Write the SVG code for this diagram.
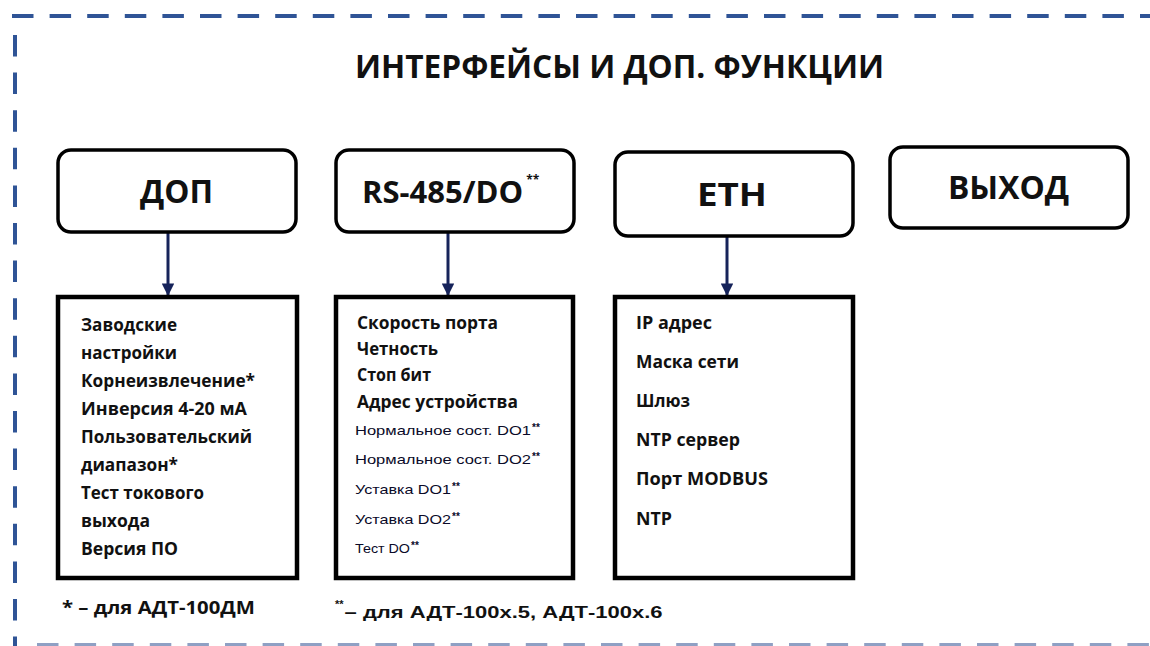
<svg xmlns="http://www.w3.org/2000/svg" width="1150" height="646" viewBox="0 0 1150 646">
<style>
.frame{fill:none;stroke:#2f5496;stroke-width:4;stroke-dasharray:21.5 16.1}
.hdr{fill:#fff;stroke:#000;stroke-width:3.5}
.lst{fill:#fff;stroke:#000;stroke-width:4.5}
.conn{stroke:#16235a;stroke-width:3;fill:none}
.t{font-family:"Open Sans","Liberation Sans",sans-serif;font-weight:bold;fill:#111}
.h{font-size:33px}
.i{font-size:17px}
.s{font-family:"Liberation Sans",Arial,sans-serif;font-size:13px;fill:#0a0a28}
.sup{font-family:"Liberation Sans",Arial,sans-serif;font-size:10px;font-weight:bold;fill:#0a0a28}
.f2{font-family:"Liberation Sans",Arial,sans-serif;font-weight:bold;font-size:17px;fill:#111}
</style>
<defs>
<marker id="arr" viewBox="0 0 10 10" refX="10" refY="5" markerWidth="4.2" markerHeight="4.2" orient="auto" markerUnits="strokeWidth">
<path d="M0,0 L10,5 L0,10 z" fill="#16235a"/>
</marker>
</defs>
<rect width="1150" height="646" fill="#fff"/>
<g id="frame">
<line class="frame" x1="12" y1="16" x2="1150" y2="16"/>
<line class="frame" x1="15" y1="35" x2="15" y2="646"/>
<line class="frame" x1="37" y1="645" x2="1150" y2="645" style="stroke:#8fa0c4"/>
</g>
<g id="title">
<text class="t" x="355" y="78" font-size="33" textLength="529" lengthAdjust="spacingAndGlyphs">ИНТЕРФЕЙСЫ И ДОП. ФУНКЦИИ</text>
</g>
<g id="connectors">
<line class="conn" x1="168" y1="233" x2="168" y2="296" marker-end="url(#arr)"/>
<line class="conn" x1="448" y1="233" x2="448" y2="296" marker-end="url(#arr)"/>
<line class="conn" x1="727" y1="237" x2="727" y2="296" marker-end="url(#arr)"/>
</g>
<g id="dop">
<rect class="hdr" x="58" y="150" width="238" height="82" rx="13"/>
<text class="t h" x="140" y="203" textLength="73" lengthAdjust="spacingAndGlyphs">ДОП</text>
</g>
<g id="rs485">
<rect class="hdr" x="336" y="150" width="238" height="82" rx="13"/>
<text class="t" x="362" y="203" font-size="31">RS-485/DO<tspan dx="3" dy="-19" font-size="12">**</tspan></text>
</g>
<g id="eth">
<rect class="hdr" x="615" y="152" width="238" height="84" rx="13"/>
<text class="t h" x="697" y="206" textLength="70" lengthAdjust="spacingAndGlyphs">ETH</text>
</g>
<g id="vyhod">
<rect class="hdr" x="890" y="147" width="238" height="81" rx="13"/>
<text class="t h" x="948" y="199" textLength="121" lengthAdjust="spacingAndGlyphs">ВЫХОД</text>
</g>
<g id="dop-list">
<rect class="lst" x="58" y="297" width="239" height="281"/>
<text class="t i" x="81" y="331" textLength="96" lengthAdjust="spacingAndGlyphs">Заводские</text>
<text class="t i" x="81" y="359" textLength="96" lengthAdjust="spacingAndGlyphs">настройки</text>
<text class="t i" x="81" y="387" textLength="174" lengthAdjust="spacingAndGlyphs">Корнеизвлечение*</text>
<text class="t i" x="81" y="415" textLength="166" lengthAdjust="spacingAndGlyphs">Инверсия 4-20 мА</text>
<text class="t i" x="81" y="443" textLength="171" lengthAdjust="spacingAndGlyphs">Пользовательский</text>
<text class="t i" x="81" y="471" textLength="97" lengthAdjust="spacingAndGlyphs">диапазон*</text>
<text class="t i" x="81" y="499" textLength="123" lengthAdjust="spacingAndGlyphs">Тест токового</text>
<text class="t i" x="81" y="527" textLength="69" lengthAdjust="spacingAndGlyphs">выхода</text>
<text class="t i" x="81" y="555" textLength="97" lengthAdjust="spacingAndGlyphs">Версия ПО</text>
</g>
<g id="rs485-list">
<rect class="lst" x="336" y="297" width="237" height="281"/>
<text class="t i" x="357" y="329" textLength="141" lengthAdjust="spacingAndGlyphs">Скорость порта</text>
<text class="t i" x="357" y="355" textLength="81" lengthAdjust="spacingAndGlyphs">Четность</text>
<text class="t i" x="357" y="381" textLength="74" lengthAdjust="spacingAndGlyphs">Стоп бит</text>
<text class="t i" x="357" y="408" textLength="161" lengthAdjust="spacingAndGlyphs">Адрес устройства</text>
<text class="s" x="355" y="435"><tspan textLength="176" lengthAdjust="spacingAndGlyphs">Нормальное сост. DO1</tspan><tspan class="sup" dx="1" dy="-4">**</tspan></text>
<text class="s" x="355" y="464"><tspan textLength="176" lengthAdjust="spacingAndGlyphs">Нормальное сост. DO2</tspan><tspan class="sup" dx="1" dy="-4">**</tspan></text>
<text class="s" x="355" y="494"><tspan textLength="96" lengthAdjust="spacingAndGlyphs">Уставка DO1</tspan><tspan class="sup" dx="1" dy="-4">**</tspan></text>
<text class="s" x="355" y="524"><tspan textLength="96" lengthAdjust="spacingAndGlyphs">Уставка DO2</tspan><tspan class="sup" dx="1" dy="-4">**</tspan></text>
<text class="s" x="355" y="553"><tspan textLength="55" lengthAdjust="spacingAndGlyphs">Тест DO</tspan><tspan class="sup" dx="1" dy="-4">**</tspan></text>
</g>
<g id="eth-list">
<rect class="lst" x="615" y="297" width="238" height="281"/>
<text class="t i" x="636" y="329" textLength="76" lengthAdjust="spacingAndGlyphs">IP адрес</text>
<text class="t i" x="636" y="368" textLength="103" lengthAdjust="spacingAndGlyphs">Маска сети</text>
<text class="t i" x="636" y="407" textLength="54" lengthAdjust="spacingAndGlyphs">Шлюз</text>
<text class="t i" x="636" y="446" textLength="104" lengthAdjust="spacingAndGlyphs">NTP сервер</text>
<text class="t i" x="636" y="485" textLength="132" lengthAdjust="spacingAndGlyphs">Порт MODBUS</text>
<text class="t i" x="636" y="525" textLength="36" lengthAdjust="spacingAndGlyphs">NTP</text>
</g>
<g id="notes">
<text class="t i" x="62" y="614" textLength="193" lengthAdjust="spacingAndGlyphs">* – для АДТ-100ДМ</text>
<text class="f2" x="335" y="618"><tspan font-size="11" dy="-10">**</tspan><tspan dx="1" dy="10" textLength="318" lengthAdjust="spacingAndGlyphs">– для АДТ-100х.5, АДТ-100х.6</tspan></text>
</g>
</svg>
